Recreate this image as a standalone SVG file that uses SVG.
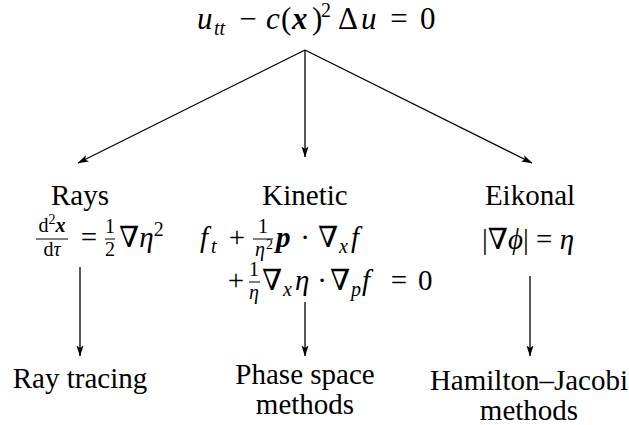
<svg xmlns="http://www.w3.org/2000/svg" width="629" height="425" viewBox="0 0 629 425" font-family="Liberation Serif, Times New Roman, DejaVu Serif, serif">
<style>
text{fill:#000;}
.lab{font-size:29px;}
.m{font-size:29px;}
.s{font-size:20px;}
.ss{font-size:14px;}
.top{font-size:31px;}
.i{font-style:italic;}
.b{font-weight:bold;font-style:italic;}
.c{text-anchor:middle;}
.bar{stroke:#000;stroke-width:1;}
.con line{stroke:#000;stroke-width:1.3;fill:none;marker-end:url(#ah);}
</style>
<defs>
<marker id="ah" markerWidth="12" markerHeight="9" refX="10.5" refY="4" orient="auto" markerUnits="userSpaceOnUse">
<path d="M0,0.5 L11,4 L0,7.5 L2.5,4 Z" fill="#000"/>
</marker>
</defs>
<g id="wave">
<text class="top i" x="197" y="29">u</text>
<text class="s i" x="214" y="35">tt</text>
<text class="top c" x="248" y="29">−</text>
<text class="top i" x="266" y="29">c</text>
<text class="top" x="281" y="29">(</text>
<text class="top b" x="292" y="29">x</text>
<text class="top" x="312" y="29">)</text>
<text class="s" x="321" y="17">2</text>
<text class="top" x="338" y="29">Δ</text>
<text class="top i" x="361" y="29">u</text>
<text class="top c" x="399" y="29">=</text>
<text class="top" x="420" y="29">0</text>
</g>
<g id="rays">
<text class="lab c" x="80" y="205">Rays</text>
<text class="s c" x="52" y="232">d<tspan class="ss" dy="-8">2</tspan><tspan class="b" dy="8">x</tspan></text>
<line class="bar" x1="36" y1="239" x2="68" y2="239"/>
<text class="s c" x="52" y="256">d<tspan class="i">τ</tspan></text>
<text class="m c" x="89" y="247">=</text>
<text class="s c" x="110" y="233">1</text>
<line class="bar" x1="105" y1="239" x2="115" y2="239"/>
<text class="s c" x="110" y="256">2</text>
<text class="m" x="119" y="247">∇<tspan class="i">η</tspan><tspan class="s" dy="-11">2</tspan></text>
</g>
<g id="kinetic">
<text class="lab c" x="305" y="205">Kinetic</text>
<text class="m i" x="200" y="247">f</text>
<text class="s i" x="211" y="253">t</text>
<text class="m c" x="237" y="247">+</text>
<text class="s c" x="263" y="233">1</text>
<line class="bar" x1="253" y1="239" x2="273" y2="239"/>
<text class="s i" x="255" y="256">η</text>
<text class="ss" x="266" y="249">2</text>
<text class="m b" x="276" y="247">p</text>
<text class="m c" x="305" y="247">·</text>
<text class="m" x="318" y="247">∇</text>
<text class="s i" x="339" y="253">x</text>
<text class="m i" x="351" y="247">f</text>
<text class="m c" x="236" y="290">+</text>
<text class="s c" x="254" y="276">1</text>
<line class="bar" x1="249" y1="282" x2="260" y2="282"/>
<text class="s i c" x="254" y="299">η</text>
<text class="m" x="262" y="290">∇</text>
<text class="s i" x="283" y="296">x</text>
<text class="m i" x="295" y="290">η</text>
<text class="m c" x="322" y="290">·</text>
<text class="m" x="330" y="290">∇</text>
<text class="s i" x="351" y="296">p</text>
<text class="m i" x="362" y="290">f</text>
<text class="m c" x="399" y="290">=</text>
<text class="m" x="418" y="290">0</text>
</g>
<g id="eikonal">
<text class="lab c" x="530" y="205">Eikonal</text>
<text class="m c" x="528" y="249">|∇<tspan class="i">ϕ</tspan>| = <tspan class="i">η</tspan></text>
</g>
<g id="raytracing">
<text class="lab c" x="80" y="388">Ray tracing</text>
</g>
<g id="phasespace">
<text class="lab c" x="305" y="384">Phase space</text>
<text class="lab c" x="305" y="414">methods</text>
</g>
<g id="hj">
<text class="lab c" x="529" y="390">Hamilton–Jacobi</text>
<text class="lab c" x="529" y="420">methods</text>
</g>
<g id="connectors" class="con">
<line x1="305" y1="50" x2="78" y2="163"/>
<line x1="305" y1="50" x2="305" y2="157"/>
<line x1="305" y1="50" x2="532" y2="163"/>
<line x1="80" y1="267" x2="80" y2="356"/>
<line x1="305" y1="302" x2="305" y2="356"/>
<line x1="530" y1="276" x2="530" y2="356"/>
</g>
</svg>
